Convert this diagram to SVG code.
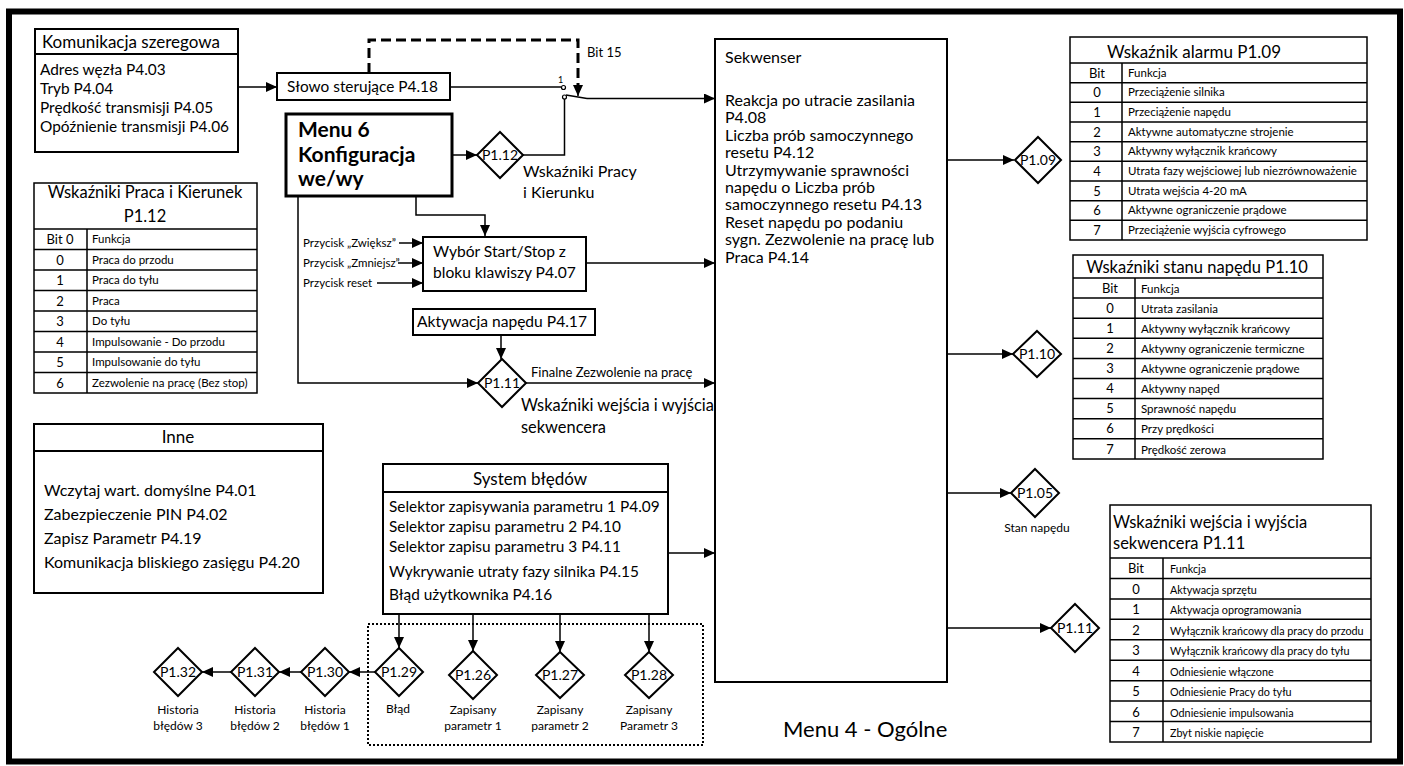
<svg xmlns="http://www.w3.org/2000/svg" width="1404" height="766" viewBox="0 0 1404 766">
  <defs>
    <marker id="arrow" markerUnits="userSpaceOnUse" markerWidth="12" markerHeight="10" refX="11" refY="5" orient="auto">
      <path d="M0,0 L11,5 L0,10 Z" fill="#000"/>
    </marker>
    <style>
      text { font-family: Lato, "Open Sans", "Liberation Sans", sans-serif; fill: #000; }
      .box { fill: #fff; stroke: #000; stroke-width: 2; }
      .thick { fill: #fff; stroke: #000; stroke-width: 3; }
      .tbl { fill: none; stroke: #000; stroke-width: 1.5; }
      .dia { fill: #fff; stroke: #000; stroke-width: 2; }
      .wire { fill: none; stroke: #000; stroke-width: 1.5; }
      .arr { fill: none; stroke: #000; stroke-width: 1.5; marker-end: url(#arrow); }
      .dash { fill: none; stroke: #000; stroke-width: 3; stroke-dasharray: 10 5; }
      .dot { fill: none; stroke: #000; stroke-width: 2; stroke-dasharray: 2 2; }
      .t15 { font-size: 15.4px; }
      .t16 { font-size: 16px; }
      .t17 { font-size: 17px; }
      .h16 { font-size: 16.5px; }
      .t13 { font-size: 13px; }
      .t12 { font-size: 12px; }
      .btn { font-size: 11.5px; }
      .dt { font-size: 14px; text-anchor: middle; }
      .mid { text-anchor: middle; }
      .cell { font-size: 11.5px; }
      .cell3 { font-size: 10.8px; }
      .bitc { font-size: 13px; text-anchor: middle; }
    </style>
  </defs>

  <!-- outer frame -->
  <rect x="9" y="11.5" width="1391" height="750" fill="#fff" stroke="#000" stroke-width="6"/>

  <!-- connectors -->
  <g id="connectors">
    <line class="arr" x1="238" y1="87" x2="277" y2="87"/>
    <line class="wire" x1="450" y1="87" x2="561" y2="87"/>
    <circle cx="563.5" cy="87.5" r="2" fill="#fff" stroke="#000" stroke-width="1.2"/>
    <circle cx="564.5" cy="97" r="2" fill="#fff" stroke="#000" stroke-width="1.2"/>
    <text x="558" y="83" font-size="9">1</text>
    <polyline class="wire" points="566,95 587,98.5"/>
    <line class="arr" x1="587" y1="98.5" x2="715" y2="98.5"/>
    <polyline class="dash" points="369,73 369,40 578,40 578,86"/>
    <line class="arr" x1="578" y1="84" x2="578" y2="96"/>
    <polyline class="wire" points="523,155 564.5,155 564.5,99"/>
    <line class="arr" x1="452" y1="155" x2="477" y2="155"/>
    <polyline class="arr" points="416,196 416,215 485,215 485,236"/>
    <polyline class="arr" points="298,196 298,383 478,383"/>
    <line class="arr" x1="399" y1="243" x2="423" y2="243"/>
    <line class="arr" x1="398" y1="263" x2="423" y2="263"/>
    <line class="arr" x1="377" y1="283" x2="423" y2="283"/>
    <line class="arr" x1="586" y1="263" x2="715" y2="263"/>
    <line class="arr" x1="501" y1="335" x2="501" y2="359"/>
    <line class="arr" x1="526" y1="383" x2="715" y2="383"/>
    <line class="arr" x1="668" y1="553" x2="715" y2="553"/>
    <line class="arr" x1="399" y1="614" x2="399" y2="648"/>
    <line class="arr" x1="473" y1="614" x2="473" y2="651"/>
    <line class="arr" x1="560" y1="614" x2="560" y2="652"/>
    <line class="arr" x1="649" y1="614" x2="649" y2="652"/>
    <line class="arr" x1="376" y1="672" x2="349" y2="672"/>
    <line class="arr" x1="301" y1="672" x2="279" y2="672"/>
    <line class="arr" x1="231" y1="672" x2="202" y2="672"/>
    <line class="arr" x1="947" y1="160" x2="1014" y2="160"/>
    <line class="arr" x1="947" y1="354" x2="1013" y2="354"/>
    <line class="arr" x1="947" y1="493" x2="1011" y2="493"/>
    <line class="arr" x1="947" y1="628" x2="1051" y2="628"/>
  </g>

  <!-- serial communication -->
  <g id="komunikacja">
    <rect class="box" x="35" y="29" width="203" height="123"/>
    <line x1="35" y1="54" x2="238" y2="54" stroke="#000" stroke-width="2"/>
    <text class="t17" x="42" y="48">Komunikacja szeregowa</text>
    <text class="t15" x="40" y="75">Adres węzła P4.03</text>
    <text class="t15" x="40" y="94">Tryb P4.04</text>
    <text class="t15" x="40" y="113">Prędkość transmisji P4.05</text>
    <text class="t15" x="40" y="132">Opóźnienie transmisji P4.06</text>
  </g>

  <g id="slowo">
    <rect class="box" x="277" y="73" width="173" height="27"/>
    <text class="t15" x="287" y="92">Słowo sterujące P4.18</text>
  </g>
  <text class="t13" x="587" y="57">Bit 15</text>

  <g id="menu6">
    <rect class="thick" x="286" y="114" width="166" height="82"/>
    <text x="298" y="137" font-size="21" font-weight="bold">Menu 6</text>
    <text x="298" y="162" font-size="21" font-weight="bold">Konfiguracja</text>
    <text x="298" y="186" font-size="21" font-weight="bold">we/wy</text>
  </g>

  <g id="p112">
    <polygon class="dia" points="500,132 523,155 500,178 477,155"/>
    <text class="dt" x="500" y="160">P1.12</text>
    <text class="t16" x="523" y="177">Wskaźniki Pracy</text>
    <text class="t16" x="523" y="198">i Kierunku</text>
  </g>

  <g id="wybor">
    <rect class="box" x="423" y="237" width="163" height="54"/>
    <text x="433" y="257" font-size="15.6">Wybór Start/Stop z</text>
    <text x="433" y="278" font-size="15.6">bloku klawiszy P4.07</text>
  </g>
  <text class="btn" x="303" y="247">Przycisk „Zwiększ”</text>
  <text class="btn" x="303" y="267">Przycisk „Zmniejsz”</text>
  <text class="btn" x="303" y="287">Przycisk reset</text>

  <g id="aktywacja">
    <rect class="box" x="413" y="309" width="182" height="26"/>
    <text class="mid" x="502" y="327" font-size="15.6">Aktywacja napędu P4.17</text>
  </g>

  <g id="p111a">
    <polygon class="dia" points="502,359 526,383 502,407 478,383"/>
    <text class="dt" x="502" y="388">P1.11</text>
    <text class="t13" x="531" y="377">Finalne Zezwolenie na pracę</text>
    <text x="521" y="411" font-size="16.4">Wskaźniki wejścia i wyjścia</text>
    <text x="521" y="433" font-size="16.4">sekwencera</text>
  </g>

  <!-- sequencer -->
  <g id="sekwenser">
    <rect class="box" x="715" y="39" width="232" height="643"/>
    <text class="t16" x="725" y="63">Sekwenser</text>
    <text class="t16" x="725" y="106">Reakcja po utracie zasilania</text>
    <text class="t16" x="725" y="123.4">P4.08</text>
    <text class="t16" x="725" y="140.8">Liczba prób samoczynnego</text>
    <text class="t16" x="725" y="158.2">resetu P4.12</text>
    <text class="t16" x="725" y="175.6">Utrzymywanie sprawności</text>
    <text class="t16" x="725" y="193">napędu o Liczba prób</text>
    <text class="t16" x="725" y="210.4">samoczynnego resetu P4.13</text>
    <text class="t16" x="725" y="227.8">Reset napędu po podaniu</text>
    <text class="t16" x="725" y="245.2">sygn. Zezwolenie na pracę lub</text>
    <text class="t16" x="725" y="262.6">Praca P4.14</text>
  </g>
  <text x="783" y="737" font-size="22">Menu 4 - Ogólne</text>

  <!-- left table P1.12 -->
  <g id="tab-p112">
    <rect class="tbl" x="34" y="183" width="223" height="210"/>
    <path class="tbl" d="M34,229H257 M34,249.5H257 M34,270H257 M34,290.5H257 M34,311H257 M34,331.5H257 M34,352H257 M34,372.5H257 M87,229V393"/>
    <text class="h16 mid" x="145" y="198">Wskaźniki Praca i Kierunek</text>
    <text class="h16 mid" x="145" y="222">P1.12</text>
    <text class="bitc" x="60" y="244">Bit 0</text><text class="cell" x="92" y="243">Funkcja</text>
    <text class="bitc" x="60" y="265">0</text><text class="cell" x="92" y="264">Praca do przodu</text>
    <text class="bitc" x="60" y="285">1</text><text class="cell" x="92" y="284">Praca do tyłu</text>
    <text class="bitc" x="60" y="306">2</text><text class="cell" x="92" y="305">Praca</text>
    <text class="bitc" x="60" y="326">3</text><text class="cell" x="92" y="325">Do tyłu</text>
    <text class="bitc" x="60" y="347">4</text><text class="cell" x="92" y="346">Impulsowanie - Do przodu</text>
    <text class="bitc" x="60" y="367">5</text><text class="cell" x="92" y="366">Impulsowanie do tyłu</text>
    <text class="bitc" x="60" y="388">6</text><text class="cell" x="92" y="387">Zezwolenie na pracę (Bez stop)</text>
  </g>

  <!-- other settings -->
  <g id="inne">
    <rect class="box" x="34" y="424" width="289" height="169"/>
    <line x1="34" y1="451" x2="323" y2="451" stroke="#000" stroke-width="2"/>
    <text class="t17 mid" x="178" y="443">Inne</text>
    <text class="t16" x="44" y="496">Wczytaj wart. domyślne P4.01</text>
    <text class="t16" x="44" y="520">Zabezpieczenie PIN P4.02</text>
    <text class="t16" x="44" y="544">Zapisz Parametr P4.19</text>
    <text class="t16" x="44" y="568">Komunikacja bliskiego zasięgu P4.20</text>
  </g>

  <!-- fault system -->
  <g id="system-bledow">
    <rect class="box" x="383" y="464" width="285" height="150"/>
    <line x1="383" y1="492" x2="668" y2="492" stroke="#000" stroke-width="2"/>
    <text class="t17 mid" x="530" y="485">System błędów</text>
    <text class="t15" x="389" y="512">Selektor zapisywania parametru 1 P4.09</text>
    <text class="t15" x="389" y="532">Selektor zapisu parametru 2 P4.10</text>
    <text class="t15" x="389" y="552">Selektor zapisu parametru 3 P4.11</text>
    <text class="t15" x="389" y="577">Wykrywanie utraty fazy silnika P4.15</text>
    <text class="t15" x="389" y="600">Błąd użytkownika P4.16</text>
  </g>
  <rect class="dot" x="368" y="624" width="335" height="121"/>

  <g id="p129">
    <polygon class="dia" points="399,648 423,672 399,696 375,672"/>
    <text class="dt" x="399" y="677">P1.29</text>
    <text class="t12 mid" x="398" y="713">Błąd</text>
  </g>
  <g id="p126">
    <polygon class="dia" points="473,651 497,675 473,699 449,675"/>
    <text class="dt" x="473" y="680">P1.26</text>
    <text class="t12 mid" x="473" y="714">Zapisany</text>
    <text class="t12 mid" x="473" y="730">parametr 1</text>
  </g>
  <g id="p127">
    <polygon class="dia" points="560,652 584,675 560,698 536,675"/>
    <text class="dt" x="560" y="680">P1.27</text>
    <text class="t12 mid" x="560" y="714">Zapisany</text>
    <text class="t12 mid" x="560" y="730">parametr 2</text>
  </g>
  <g id="p128">
    <polygon class="dia" points="649,652 673,675 649,698 625,675"/>
    <text class="dt" x="649" y="680">P1.28</text>
    <text class="t12 mid" x="649" y="714">Zapisany</text>
    <text class="t12 mid" x="649" y="730">Parametr 3</text>
  </g>
  <g id="p130">
    <polygon class="dia" points="325,648 349,672 325,696 301,672"/>
    <text class="dt" x="325" y="677">P1.30</text>
    <text class="t12 mid" x="325" y="714">Historia</text>
    <text class="t12 mid" x="325" y="730">błędów 1</text>
  </g>
  <g id="p131">
    <polygon class="dia" points="255,648 279,672 255,696 231,672"/>
    <text class="dt" x="255" y="677">P1.31</text>
    <text class="t12 mid" x="255" y="714">Historia</text>
    <text class="t12 mid" x="255" y="730">błędów 2</text>
  </g>
  <g id="p132">
    <polygon class="dia" points="178,648 202,672 178,696 154,672"/>
    <text class="dt" x="178" y="677">P1.32</text>
    <text class="t12 mid" x="178" y="714">Historia</text>
    <text class="t12 mid" x="178" y="730">błędów 3</text>
  </g>

  <!-- output indicators -->
  <g id="p109">
    <polygon class="dia" points="1038,137 1061,160 1038,183 1015,160"/>
    <text class="dt" x="1038" y="165">P1.09</text>
  </g>
  <g id="p110">
    <polygon class="dia" points="1037,331 1061,354 1037,377 1013,354"/>
    <text class="dt" x="1037" y="359">P1.10</text>
  </g>
  <g id="p105">
    <polygon class="dia" points="1035,469 1059,493 1035,517 1011,493"/>
    <text class="dt" x="1035" y="498">P1.05</text>
    <text class="t12 mid" x="1037" y="532">Stan napędu</text>
  </g>
  <g id="p111b">
    <polygon class="dia" points="1075,604 1099,628 1075,652 1051,628"/>
    <text class="dt" x="1075" y="633">P1.11</text>
  </g>

  <!-- table P1.09 -->
  <g id="tab-p109">
    <rect class="tbl" x="1070" y="37" width="297" height="203"/>
    <path class="tbl" d="M1070,63H1367 M1070,82.7H1367 M1070,102.3H1367 M1070,122H1367 M1070,141.7H1367 M1070,161.3H1367 M1070,181H1367 M1070,200.7H1367 M1070,220.3H1367 M1122,63V240"/>
    <text class="t17 mid" x="1194" y="58">Wskaźnik alarmu P1.09</text>
    <text class="bitc" x="1097" y="78">Bit</text><text class="cell" x="1128" y="77">Funkcja</text>
    <text class="bitc" x="1097" y="97">0</text><text class="cell" x="1128" y="96">Przeciążenie silnika</text>
    <text class="bitc" x="1097" y="117">1</text><text class="cell" x="1128" y="116">Przeciążenie napędu</text>
    <text class="bitc" x="1097" y="137">2</text><text class="cell" x="1128" y="136">Aktywne automatyczne strojenie</text>
    <text class="bitc" x="1097" y="156">3</text><text class="cell" x="1128" y="155">Aktywny wyłącznik krańcowy</text>
    <text class="bitc" x="1097" y="176">4</text><text class="cell" x="1128" y="175">Utrata fazy wejściowej lub niezrównoważenie</text>
    <text class="bitc" x="1097" y="196">5</text><text class="cell" x="1128" y="195">Utrata wejścia 4-20 mA</text>
    <text class="bitc" x="1097" y="215">6</text><text class="cell" x="1128" y="214">Aktywne ograniczenie prądowe</text>
    <text class="bitc" x="1097" y="235">7</text><text class="cell" x="1128" y="234">Przeciążenie wyjścia cyfrowego</text>
  </g>

  <!-- table P1.10 -->
  <g id="tab-p110">
    <rect class="tbl" x="1073" y="255" width="250" height="204"/>
    <path class="tbl" d="M1073,278H1323 M1073,298.1H1323 M1073,318.2H1323 M1073,338.3H1323 M1073,358.4H1323 M1073,378.5H1323 M1073,398.6H1323 M1073,418.7H1323 M1073,438.8H1323 M1135,278V459"/>
    <text class="h16 mid" x="1197" y="273">Wskaźniki stanu napędu P1.10</text>
    <text class="bitc" x="1110" y="293">Bit</text><text class="cell" x="1141" y="293">Funkcja</text>
    <text class="bitc" x="1110" y="313">0</text><text class="cell" x="1141" y="313">Utrata zasilania</text>
    <text class="bitc" x="1110" y="333">1</text><text class="cell" x="1141" y="333">Aktywny wyłącznik krańcowy</text>
    <text class="bitc" x="1110" y="353">2</text><text class="cell" x="1141" y="353">Aktywny ograniczenie termiczne</text>
    <text class="bitc" x="1110" y="373">3</text><text class="cell" x="1141" y="373">Aktywne ograniczenie prądowe</text>
    <text class="bitc" x="1110" y="393">4</text><text class="cell" x="1141" y="393">Aktywny napęd</text>
    <text class="bitc" x="1110" y="413">5</text><text class="cell" x="1141" y="413">Sprawność napędu</text>
    <text class="bitc" x="1110" y="433">6</text><text class="cell" x="1141" y="433">Przy prędkości</text>
    <text class="bitc" x="1110" y="454">7</text><text class="cell" x="1141" y="454">Prędkość zerowa</text>
  </g>

  <!-- table P1.11 -->
  <g id="tab-p111">
    <rect class="tbl" x="1110" y="505" width="261" height="237"/>
    <path class="tbl" d="M1110,558H1371 M1110,578.4H1371 M1110,598.9H1371 M1110,619.3H1371 M1110,639.8H1371 M1110,660.2H1371 M1110,680.7H1371 M1110,701.1H1371 M1110,721.6H1371 M1163,558V742"/>
    <text class="h16" x="1113" y="528">Wskaźniki wejścia i wyjścia</text>
    <text class="h16" x="1113" y="549">sekwencera P1.11</text>
    <text class="bitc" x="1136" y="573">Bit</text><text class="cell3" x="1170" y="573">Funkcja</text>
    <text class="bitc" x="1136" y="594">0</text><text class="cell3" x="1170" y="594">Aktywacja sprzętu</text>
    <text class="bitc" x="1136" y="614">1</text><text class="cell3" x="1170" y="614">Aktywacja oprogramowania</text>
    <text class="bitc" x="1136" y="635">2</text><text class="cell3" x="1170" y="635">Wyłącznik krańcowy dla pracy do przodu</text>
    <text class="bitc" x="1136" y="655">3</text><text class="cell3" x="1170" y="655">Wyłącznik krańcowy dla pracy do tyłu</text>
    <text class="bitc" x="1136" y="676">4</text><text class="cell3" x="1170" y="676">Odniesienie włączone</text>
    <text class="bitc" x="1136" y="696">5</text><text class="cell3" x="1170" y="696">Odniesienie Pracy do tyłu</text>
    <text class="bitc" x="1136" y="717">6</text><text class="cell3" x="1170" y="717">Odniesienie impulsowania</text>
    <text class="bitc" x="1136" y="737">7</text><text class="cell3" x="1170" y="737">Zbyt niskie napięcie</text>
  </g>
</svg>
